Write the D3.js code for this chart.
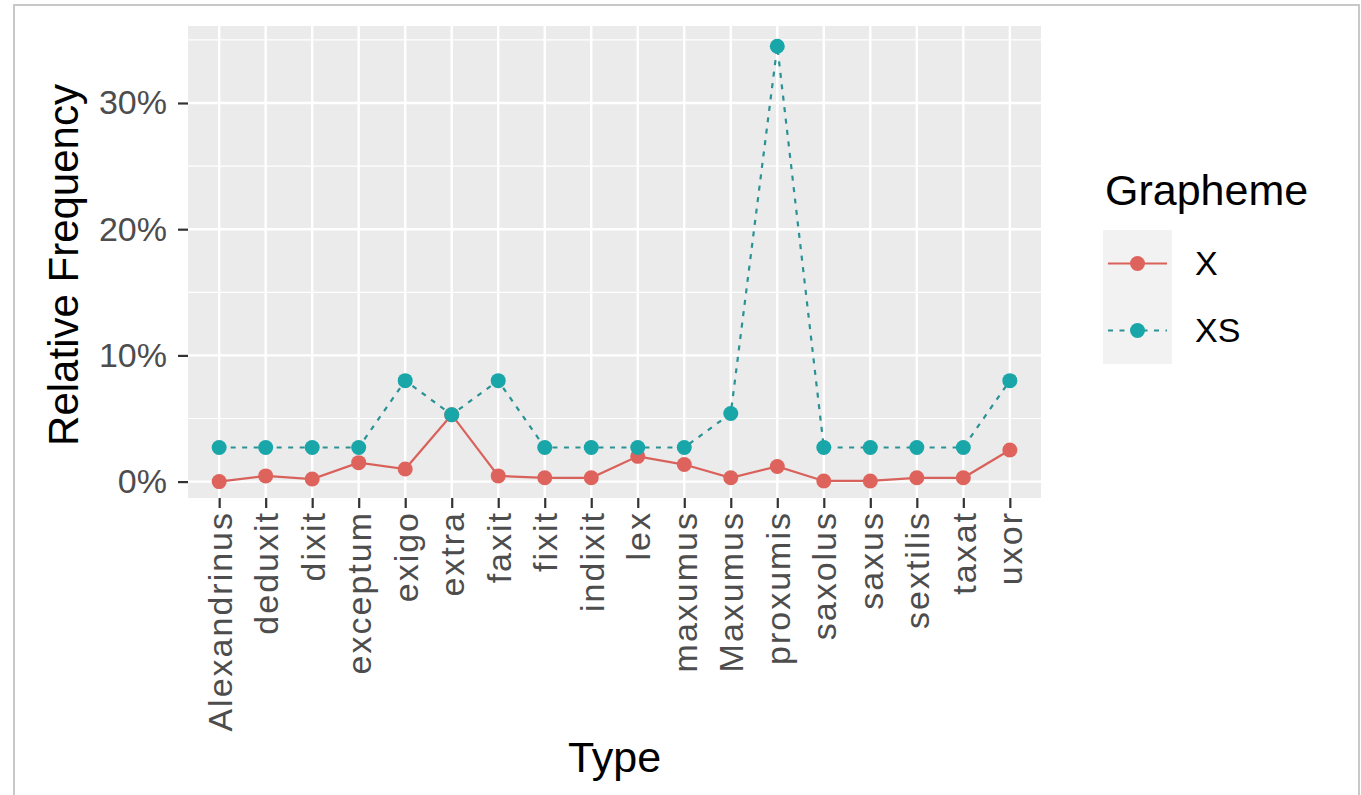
<!DOCTYPE html>
<html>
<head>
<meta charset="utf-8">
<script src="https://cdn.jsdelivr.net/npm/d3@7"></script>
<style>
  html, body { margin: 0; padding: 0; background: #ffffff; }
  svg { display: block; }
  text { font-family: "Liberation Sans", Arial, sans-serif; }
</style>
</head>
<body>
<svg id="chart" width="1361" height="795"></svg>
<script>
// ---- data ----
const categories = ["Alexandrinus","deduxit","dixit","exceptum","exigo","extra","faxit","fixit","indixit","lex","maxumus","Maxumus","proxumis","saxolus","saxus","sextilis","taxat","uxor"];
const valuesX  = [0.0, 0.45, 0.2, 1.5, 1.0, 5.3, 0.45, 0.3, 0.3, 2.0, 1.35, 0.3, 1.2, 0.05, 0.05, 0.3, 0.3, 2.5];
const valuesXS = [2.7, 2.7, 2.7, 2.7, 8.0, 5.3, 8.0, 2.7, 2.7, 2.7, 2.7, 5.4, 34.5, 2.7, 2.7, 2.7, 2.7, 8.0];
const seriesNames = ["X", "XS"];
const yTicks = [0, 10, 20, 30];
const yMinorTicks = [5, 15, 25, 35];
const yTickLabels = ["0%", "10%", "20%", "30%"];

// ---- layout ----
const panel = { left: 188, right: 1041, top: 26, bottom: 498 };
const colors = { X: "#DE635C", XS: "#19A6A8" };
const lineColors = { X: "#D8625B", XS: "#2A9294" };

const svg = d3.select("#chart");

// outer frame
svg.append("rect").attr("x", 14).attr("y", 5).attr("width", 1345).attr("height", 800)
  .attr("fill", "#ffffff").attr("stroke", "#C8C8C8").attr("stroke-width", 2);

const x = d3.scalePoint().domain(categories).range([panel.left, panel.right]).padding(0.67);
const y = d3.scaleLinear().domain([-1.3, 36.1]).range([panel.bottom, panel.top]);

// panel background
svg.append("rect").attr("x", panel.left).attr("y", panel.top)
  .attr("width", panel.right - panel.left).attr("height", panel.bottom - panel.top)
  .attr("fill", "#EBEBEB");

// minor grid
svg.append("g").selectAll("line").data(yMinorTicks).join("line")
  .attr("x1", panel.left).attr("x2", panel.right)
  .attr("y1", d => y(d)).attr("y2", d => y(d))
  .attr("stroke", "#ffffff").attr("stroke-width", 1.2);
// major grid
svg.append("g").selectAll("line").data(yTicks).join("line")
  .attr("x1", panel.left).attr("x2", panel.right)
  .attr("y1", d => y(d)).attr("y2", d => y(d))
  .attr("stroke", "#ffffff").attr("stroke-width", 2.4);
svg.append("g").selectAll("line").data(categories).join("line")
  .attr("x1", d => x(d)).attr("x2", d => x(d))
  .attr("y1", panel.top).attr("y2", panel.bottom)
  .attr("stroke", "#ffffff").attr("stroke-width", 2.4);

// axes
const yAxis = d3.axisLeft(y).tickValues(yTicks).tickFormat((d, i) => yTickLabels[i]).tickSize(10).tickPadding(11);
const gy = svg.append("g").attr("transform", `translate(${panel.left},0)`).call(yAxis);
gy.select(".domain").remove();
gy.selectAll(".tick line").attr("stroke", "#333333").attr("stroke-width", 2.2);
gy.selectAll(".tick text").attr("fill", "#4D4D4D").style("font-size", "34px")
  .style("font-family", "'Liberation Sans', Arial, sans-serif");

const xAxis = d3.axisBottom(x).tickSize(10).tickPadding(6);
const gx = svg.append("g").attr("transform", `translate(0,${panel.bottom})`).call(xAxis);
gx.select(".domain").remove();
gx.selectAll(".tick line").attr("stroke", "#333333").attr("stroke-width", 2.2);
gx.selectAll(".tick text")
  .attr("fill", "#4D4D4D").style("font-size", "34px")
  .style("font-family", "'Liberation Sans', Arial, sans-serif")
  .style("letter-spacing", "2px")
  .attr("text-anchor", "end")
  .attr("transform", "rotate(-90)")
  .attr("x", -13).attr("y", 0).attr("dy", "0.35em");

// lines
const series = [
  { name: "X", values: valuesX, dash: null },
  { name: "XS", values: valuesXS, dash: "5,6.5" }
];
const line = d3.line().x((d, i) => x(categories[i])).y(d => y(d));
series.forEach(s => {
  svg.append("path").datum(s.values)
    .attr("d", line)
    .attr("fill", "none")
    .attr("stroke", lineColors[s.name])
    .attr("stroke-width", 2.2)
    .attr("stroke-dasharray", s.dash);
});
series.forEach(s => {
  svg.append("g").selectAll("circle").data(s.values).join("circle")
    .attr("cx", (d, i) => x(categories[i]))
    .attr("cy", d => y(d))
    .attr("r", 7.5)
    .attr("fill", colors[s.name]);
});

// axis titles
svg.append("text").attr("transform", `translate(78,${(panel.top + panel.bottom) / 2 + 3}) rotate(-90)`)
  .attr("text-anchor", "middle").attr("fill", "#000").style("font-size", "42px")
  .text("Relative Frequency");
svg.append("text").attr("x", (panel.left + panel.right) / 2).attr("y", 772)
  .attr("text-anchor", "middle").attr("fill", "#000").style("font-size", "43px")
  .text("Type");

// legend
const legend = svg.append("g");
legend.append("text").attr("x", 1105).attr("y", 205).attr("fill", "#000")
  .style("font-size", "43px").text("Grapheme");
const keyTop = 230, keyH = 67, keyLeft = 1103, keyW = 69;
seriesNames.forEach((name, i) => {
  const s = series[i];
  const cy = keyTop + keyH * i + keyH / 2;
  legend.append("rect").attr("x", keyLeft).attr("y", keyTop + keyH * i)
    .attr("width", keyW).attr("height", keyH).attr("fill", "#F2F2F2");
  legend.append("line").attr("x1", keyLeft + 5).attr("x2", keyLeft + keyW - 5)
    .attr("y1", cy).attr("y2", cy)
    .attr("stroke", lineColors[name]).attr("stroke-width", 2.2)
    .attr("stroke-dasharray", s.dash);
  legend.append("circle").attr("cx", keyLeft + keyW / 2).attr("cy", cy).attr("r", 7.5)
    .attr("fill", colors[name]);
  legend.append("text").attr("x", 1195).attr("y", cy).attr("dy", "0.35em")
    .attr("fill", "#000").style("font-size", "34px").text(name);
});
</script>
</body>
</html>
